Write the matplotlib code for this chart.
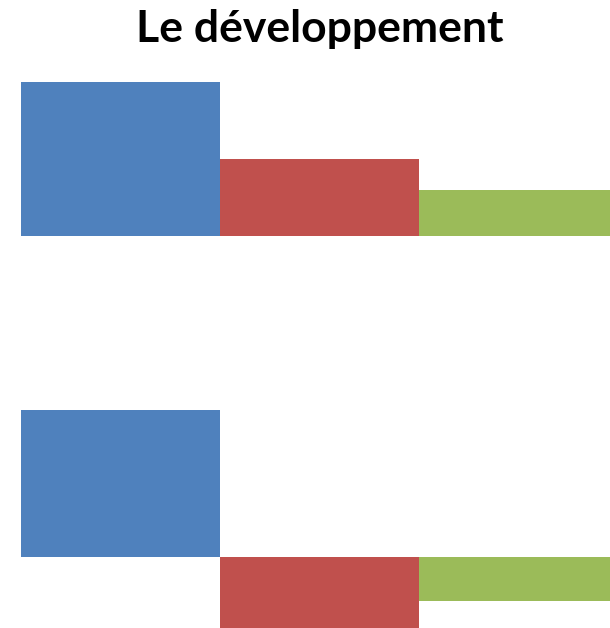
import matplotlib
matplotlib.use("Agg")
import matplotlib.pyplot as plt

title = "Le développement"
series = ["Série 1", "Série 2", "Série 3"]
colors = ["#4F81BD", "#C0504D", "#9BBB59"]
top_values = [154, 77, 46]
bottom_values = [147, -71, -44]

W, H = 610, 628
fig = plt.figure(figsize=(W / 100, H / 100), dpi=100)

px_per_unit = 199.0
x_left = -0.5 - 21 / px_per_unit
x_right = x_left + W / px_per_unit


def make_axes(y_top_px, y_bot_px, base_px, values):
    ax = fig.add_axes([0, 1 - y_bot_px / H, 1, (y_bot_px - y_top_px) / H])
    ax.bar(range(len(values)), values, width=1.0, color=colors, linewidth=0)
    ax.set_xlim(x_left, x_right)
    ax.set_ylim(-(y_bot_px - base_px), base_px - y_top_px)
    ax.axis("off")
    return ax


make_axes(60, 260, 235.5, top_values)
make_axes(380, 628, 556.5, bottom_values)

fig.text(320 / W, 1 - 29 / H, title, ha="center", va="center",
         fontsize=32, fontweight="bold", family=["Lato", "DejaVu Sans"])

fig.savefig("out.png", dpi=100)
